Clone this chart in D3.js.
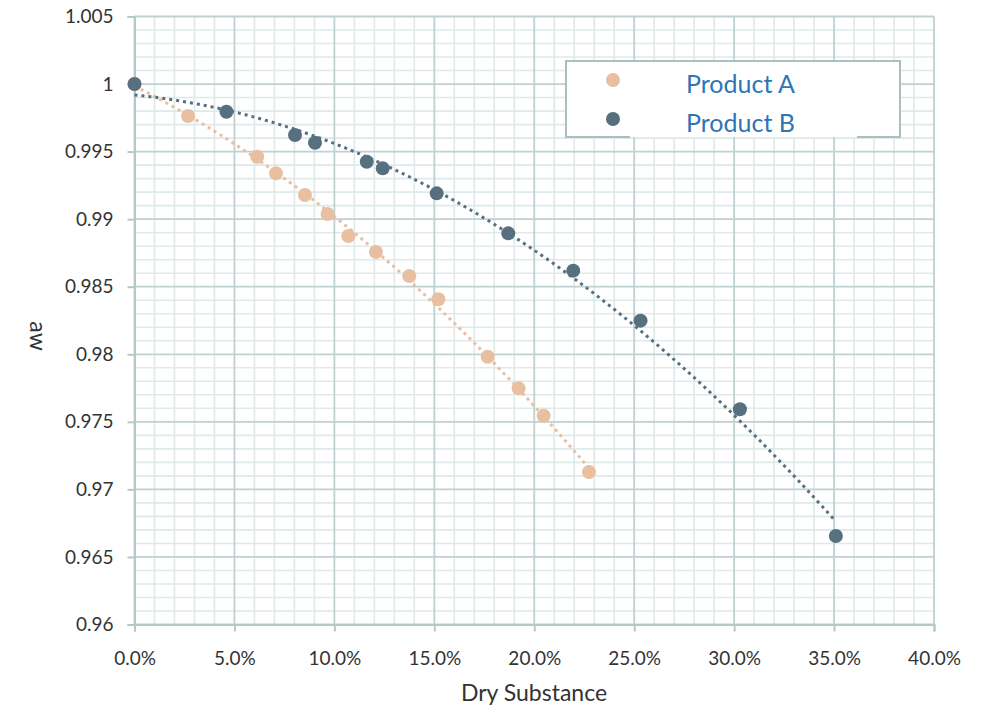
<!DOCTYPE html>
<html>
<head>
<meta charset="utf-8">
<script src="https://cdn.jsdelivr.net/npm/d3@7"></script>
<style>
  body { margin: 0; background: #fff; }
  text { font-family: Lato, "Open Sans", sans-serif; }
</style>
</head>
<body>
<div id="chart"></div>
<script>
// data
var seriesNames = ["Product A", "Product B"];
var productA_x = [0, 2.68, 6.14, 7.08, 8.53, 9.66, 10.70, 12.08, 13.75, 15.20, 17.67, 19.22, 20.47, 22.74];
var productA_y = [1.0, 0.99764, 0.99462, 0.99339, 0.99179, 0.99038, 0.98875, 0.98757, 0.98579, 0.98407, 0.97982, 0.97748, 0.97545, 0.97129];
var productB_x = [0, 4.60, 8.03, 9.03, 11.62, 12.42, 15.12, 18.70, 21.95, 25.32, 30.29, 35.09];
var productB_y = [1.0, 0.99795, 0.99623, 0.99566, 0.99425, 0.99376, 0.99191, 0.98895, 0.98619, 0.98249, 0.97593, 0.96655];
var xTicks = [0, 5, 10, 15, 20, 25, 30, 35, 40];
var yTicks = [0.96, 0.965, 0.97, 0.975, 0.98, 0.985, 0.99, 0.995, 1, 1.005];

var colors = { "Product A": "#e9bfa2", "Product B": "#56707f" };

var W = 987, H = 712;
var margin = { top: 16.5, right: 53, bottom: 87.5, left: 134.5 };
var width = W - margin.left - margin.right,
    height = H - margin.top - margin.bottom;

var svg = d3.select("#chart").append("svg")
  .attr("width", W)
  .attr("height", H);

var g = svg.append("g")
  .attr("transform", "translate(" + margin.left + "," + margin.top + ")");

var x = d3.scaleLinear().domain([0, 40]).range([0, width]);
var y = d3.scaleLinear().domain([0.96, 1.005]).range([height, 0]);

// minor grid (1% in x, 0.001 in y)
var minorX = d3.range(0, 41, 1).filter(function (d) { return d % 5 !== 0; });
var minorY = d3.range(0, 46, 1).filter(function (d) { return d % 5 !== 0; }).map(function (d) { return 0.96 + d * 0.001; });

g.append("g").selectAll("line").data(minorX).enter().append("line")
  .attr("x1", function (d) { return x(d); }).attr("x2", function (d) { return x(d); })
  .attr("y1", 0).attr("y2", height)
  .attr("stroke", "#dfe9e9").attr("stroke-width", 1.6);
g.append("g").selectAll("line").data(minorY).enter().append("line")
  .attr("y1", function (d) { return y(d); }).attr("y2", function (d) { return y(d); })
  .attr("x1", 0).attr("x2", width)
  .attr("stroke", "#dfe9e9").attr("stroke-width", 1.6);

// major grid
g.append("g").selectAll("line").data(xTicks).enter().append("line")
  .attr("x1", function (d) { return x(d); }).attr("x2", function (d) { return x(d); })
  .attr("y1", 0).attr("y2", height)
  .attr("stroke", "#bfd1d1").attr("stroke-width", 1.8);
g.append("g").selectAll("line").data(yTicks).enter().append("line")
  .attr("y1", function (d) { return y(d); }).attr("y2", function (d) { return y(d); })
  .attr("x1", 0).attr("x2", width)
  .attr("stroke", "#bfd1d1").attr("stroke-width", 1.8);

// axes
var xAxis = g.append("g")
  .attr("transform", "translate(0," + height + ")")
  .call(d3.axisBottom(x).tickValues(xTicks).tickSize(7).tickPadding(20)
    .tickFormat(function (d) { return d.toFixed(1) + "%"; }));
var yAxis = g.append("g")
  .call(d3.axisLeft(y).tickValues(yTicks).tickSize(7).tickPadding(14)
    .tickFormat(function (d) { return d3.format("")(+d.toFixed(3)); }));

[xAxis, yAxis].forEach(function (a) {
  a.select(".domain").attr("stroke", "#b5c8c8").attr("stroke-width", 2);
  a.selectAll(".tick line").attr("stroke", "#b5c8c8").attr("stroke-width", 2);
  a.selectAll(".tick text").attr("fill", "#333").style("font-size", "19px").style("font-family", "Lato, sans-serif");
});

// trendlines: 2nd order least squares fit of each series
function quadFit(xs, ys) {
  var s = [0, 0, 0, 0, 0], t = [0, 0, 0];
  xs.forEach(function (xv, i) {
    var p = 1;
    for (var k = 0; k < 5; k++) { s[k] += p; if (k < 3) t[k] += p * ys[i]; p *= xv; }
  });
  var M = [[s[0], s[1], s[2], t[0]], [s[1], s[2], s[3], t[1]], [s[2], s[3], s[4], t[2]]];
  for (var i = 0; i < 3; i++) {
    for (var j = i + 1; j < 3; j++) {
      var f = M[j][i] / M[i][i];
      for (var k = i; k < 4; k++) M[j][k] -= f * M[i][k];
    }
  }
  var c = [0, 0, 0];
  for (var i = 2; i >= 0; i--) {
    var v = M[i][3];
    for (var k = i + 1; k < 3; k++) v -= M[i][k] * c[k];
    c[i] = v / M[i][i];
  }
  return function (xv) { return c[0] + c[1] * xv + c[2] * xv * xv; };
}

var series = [
  { name: "Product A", xs: productA_x, ys: productA_y },
  { name: "Product B", xs: productB_x, ys: productB_y }
];

var line = d3.line().x(function (d) { return x(d[0]); }).y(function (d) { return y(d[1]); });

series.forEach(function (s) {
  var fit = quadFit(s.xs, s.ys);
  var xmax = d3.max(s.xs);
  var pts = x.ticks(200).filter(function (v) { return v <= xmax; }).map(function (v) { return [v, fit(v)]; });
  pts.push([xmax, fit(xmax)]);
  g.append("path")
    .attr("d", line(pts))
    .attr("fill", "none")
    .attr("stroke", colors[s.name])
    .attr("stroke-width", 3)
    .attr("stroke-dasharray", "3 4");
});

// points
series.forEach(function (s) {
  g.append("g").selectAll("circle")
    .data(s.xs.map(function (xv, i) { return [xv, s.ys[i]]; }))
    .enter().append("circle")
    .attr("cx", function (d) { return x(d[0]); })
    .attr("cy", function (d) { return y(d[1]); })
    .attr("r", 7)
    .attr("fill", colors[s.name]);
});

// axis titles
svg.append("text")
  .attr("x", 534).attr("y", 701)
  .attr("text-anchor", "middle")
  .style("font-size", "23px")
  .attr("fill", "#333")
  .text("Dry Substance");

svg.append("text")
  .attr("transform", "translate(30,336) rotate(90)")
  .attr("text-anchor", "middle")
  .style("font-size", "23px")
  .attr("fill", "#333")
  .text("aw");

// legend
var lg = svg.append("g").attr("transform", "translate(566,61)");
lg.append("rect").attr("width", 334).attr("height", 76).attr("fill", "#fff");
var lgStroke = "#aabfbf";
lg.append("path")
  .attr("d", "M64,76 H0 V0 H334 V76 H291")
  .attr("fill", "none").attr("stroke", lgStroke).attr("stroke-width", 2);

seriesNames.forEach(function (name, i) {
  var row = lg.append("g").attr("transform", "translate(0," + (19 + i * 39) + ")");
  row.append("circle").attr("cx", 47).attr("cy", 0).attr("r", 7).attr("fill", colors[name]);
  row.append("text").attr("x", 120).attr("y", 13)
    .style("font-size", "25px")
    .attr("fill", "#2e75b6")
    .text(name);
});
</script>
</body>
</html>
